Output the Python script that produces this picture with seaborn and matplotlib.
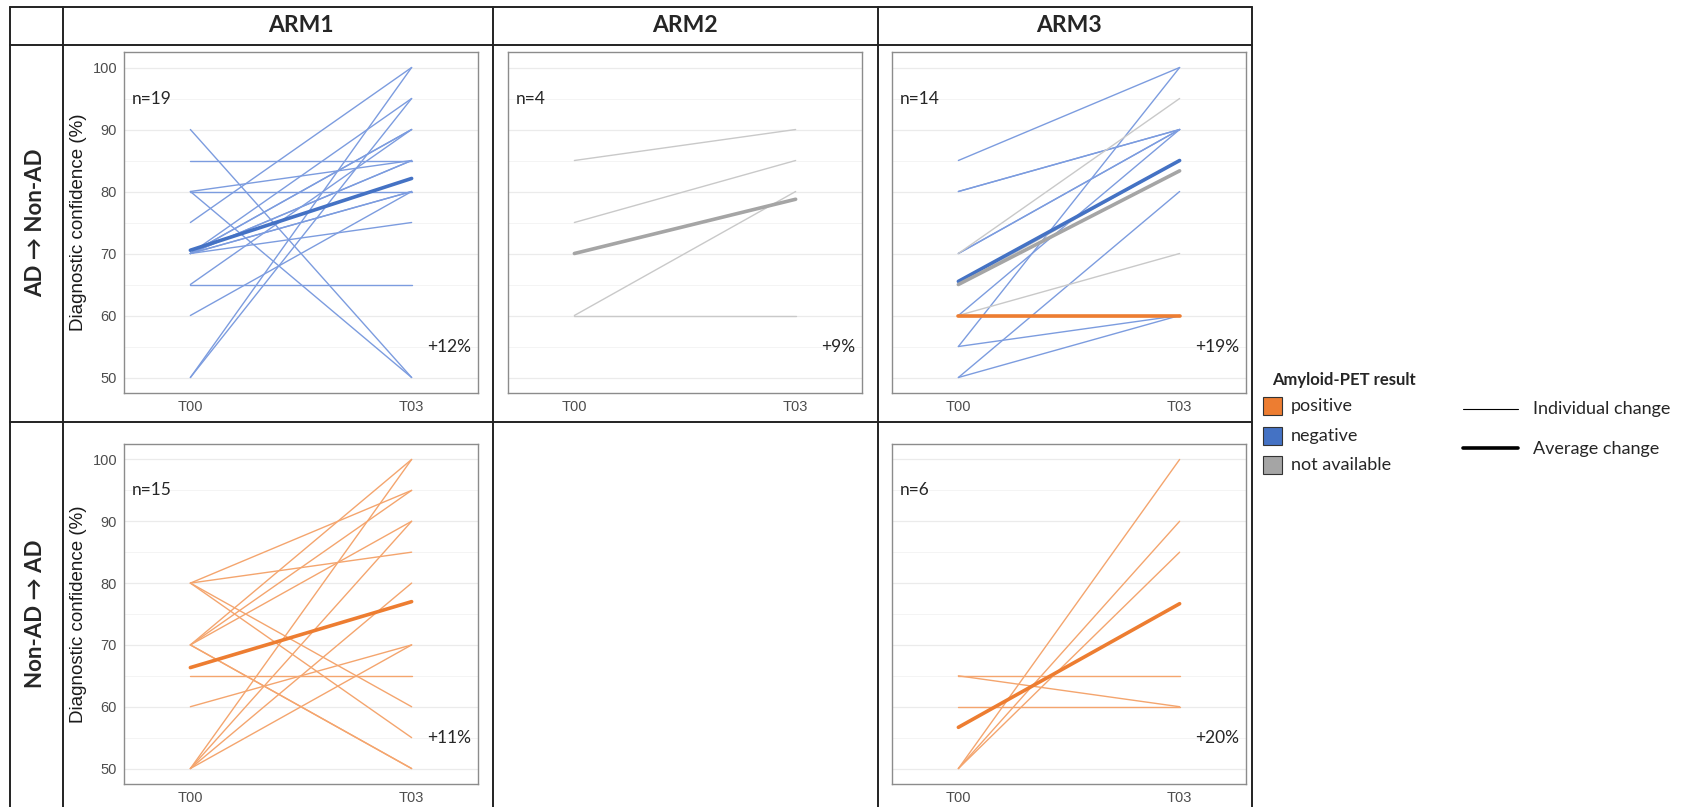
import pandas as pd
import matplotlib
matplotlib.use("Agg")
import matplotlib.pyplot as plt
from matplotlib.lines import Line2D
from matplotlib.patches import Rectangle
import seaborn as sns

W, H = 1684, 807

# ==== values ====
times = ["T00", "T03"]
pet_levels = ["positive", "negative", "not available"]
arms = ["ARM1", "ARM2", "ARM3"]
rows = ["AD \u2192 Non-AD", "Non-AD \u2192 AD"]

# ARM1, AD -> Non-AD
arm1_ad_t00 = [90, 85, 80, 80, 80, 75, 70, 70, 70, 70, 70, 70, 70, 70, 65, 65, 60, 50, 50]
arm1_ad_t03 = [50, 85, 80, 85, 50, 100, 95, 90, 90, 85, 85, 80, 80, 75, 65, 90, 80, 100, 95]
arm1_ad_pet = ["negative"] * 19

# ARM2, AD -> Non-AD
arm2_ad_t00 = [85, 75, 60, 60]
arm2_ad_t03 = [90, 85, 80, 60]
arm2_ad_pet = ["not available"] * 4

# ARM3, AD -> Non-AD
arm3_ad_t00 = [60, 70, 60, 65, 85, 80, 80, 70, 70, 60, 55, 55, 50, 50]
arm3_ad_t03 = [60, 95, 70, 85, 100, 90, 90, 90, 90, 90, 100, 60, 60, 80]
arm3_ad_pet = ["positive"] + ["not available"] * 3 + ["negative"] * 10

# ARM1, Non-AD -> AD
arm1_nad_t00 = [80, 80, 80, 80, 70, 70, 70, 70, 70, 65, 60, 50, 50, 50, 50]
arm1_nad_t03 = [95, 85, 60, 55, 100, 95, 90, 50, 50, 65, 70, 100, 90, 80, 70]
arm1_nad_pet = ["positive"] * 15

# ARM3, Non-AD -> AD
arm3_nad_t00 = [50, 50, 50, 65, 65, 60]
arm3_nad_t03 = [100, 90, 85, 65, 60, 60]
arm3_nad_pet = ["positive"] * 6

n_labels = {"ARM1_0": "n=19", "ARM2_0": "n=4", "ARM3_0": "n=14", "ARM1_1": "n=15", "ARM3_1": "n=6"}
pct_labels = {"ARM1_0": "+12%", "ARM2_0": "+9%", "ARM3_0": "+19%", "ARM1_1": "+11%", "ARM3_1": "+20%"}

pal = {"positive": "#ED7D31", "negative": "#4472C4", "not available": "#A5A5A5"}
thin_pal = {"positive": "#F4A56E", "negative": "#7C9CDF", "not available": "#C9C9C9"}

panels = {
    "ARM1_0": (arm1_ad_t00, arm1_ad_t03, arm1_ad_pet),
    "ARM2_0": (arm2_ad_t00, arm2_ad_t03, arm2_ad_pet),
    "ARM3_0": (arm3_ad_t00, arm3_ad_t03, arm3_ad_pet),
    "ARM1_1": (arm1_nad_t00, arm1_nad_t03, arm1_nad_pet),
    "ARM3_1": (arm3_nad_t00, arm3_nad_t03, arm3_nad_pet),
}

# axes boxes in pixels
col_x = {"ARM1": (124, 478), "ARM2": (508, 862), "ARM3": (892, 1246)}
row_y = [(52, 393), (444, 784)]

CAL = ["Lato", "DejaVu Sans"]
ARI = ["Liberation Sans", "DejaVu Sans"]


def make_df(t00, t03, pet):
    n = len(t00)
    return pd.DataFrame({
        "id": list(range(n)) * 2,
        "t": [0] * n + [1] * n,
        "value": list(t00) + list(t03),
        "pet": list(pet) * 2,
    })


sns.set_style("white")
fig = plt.figure(figsize=(W / 100, H / 100), dpi=100)

for key, (t00, t03, pet) in panels.items():
    arm, r = key.split("_")
    r = int(r)
    x0, x1 = col_x[arm]
    y0, y1 = row_y[r]
    ax = fig.add_axes([x0 / W, 1 - y1 / H, (x1 - x0) / W, (y1 - y0) / H])
    df = make_df(t00, t03, pet)
    order = [p for p in pet_levels if p in df["pet"].unique()]

    # individual change
    sns.lineplot(data=df, x="t", y="value", hue="pet", hue_order=order, palette=thin_pal,
                 units="id", estimator=None, lw=1.0, legend=False, ax=ax)
    # average change
    sns.lineplot(data=df, x="t", y="value", hue="pet", hue_order=order, palette=pal,
                 estimator="mean", errorbar=None, lw=2.6, legend=False, ax=ax)

    ax.set_xlim(-0.3, 1.3)
    ax.set_ylim(47.5, 102.5)
    ax.set_xticks([0, 1])
    ax.set_xticklabels(times, family=ARI)
    ax.set_yticks(range(50, 101, 10))
    ax.set_yticks(range(55, 100, 10), minor=True)
    ax.grid(axis="y", which="major", color="#ebebeb", lw=0.9)
    ax.grid(axis="y", which="minor", color="#f3f3f3", lw=0.6)
    ax.set_axisbelow(True)
    for s in ax.spines.values():
        s.set_visible(True)
        s.set_color("#8c8c8c")
        s.set_linewidth(1.0)
    ax.tick_params(axis="both", which="major", length=3, width=0.8, color="#555555",
                   labelsize=10.5, labelcolor="#4d4d4d", pad=2)
    ax.tick_params(axis="y", which="minor", length=0)
    ax.set_xlabel("")
    if arm == "ARM1":
        ax.set_yticklabels([str(v) for v in range(50, 101, 10)], family=ARI)
        ax.set_ylabel("Diagnostic confidence (%)", fontsize=13.5, family=ARI,
                      color="#1a1a1a", labelpad=4)
    else:
        ax.set_yticklabels([])
        ax.set_ylabel("")

    ax.text(-0.265, 95, n_labels[key], ha="left", va="center", fontsize=12.5, family=CAL)
    ax.text(1.27, 55, pct_labels[key], ha="right", va="center", fontsize=12.5, family=CAL)


def fline(xa, ya, xb, yb, lw=1.4, color="#222222"):
    fig.add_artist(Line2D([xa / W, xb / W], [1 - ya / H, 1 - yb / H],
                          transform=fig.transFigure, color=color, lw=lw))


# table grid
for x in [10, 63, 493, 878, 1252]:
    fline(x, 7, x, 808)
for y in [7, 45, 422]:
    fline(10, y, 1252, y)

for arm in arms:
    x0, x1 = col_x[arm]
    fig.text((x0 + x1) / 2 / W, 1 - 26 / H, arm, ha="center", va="center",
             fontsize=16.5, weight="bold", family=CAL)

for r, lab in enumerate(rows):
    y0, y1 = row_y[r]
    fig.text(36 / W, 1 - (y0 + y1) / 2 / H, lab, ha="center", va="center", rotation=90,
             fontsize=16, weight="bold", family=CAL)

# legend
fig.text(1272 / W, 1 - 380 / H, "Amyloid-PET result", ha="left", va="center",
         fontsize=12, weight="bold", family=CAL)
for i, lvl in enumerate(pet_levels):
    top = 397 + i * 29.5
    fig.add_artist(Rectangle((1263 / W, 1 - (top + 18) / H), 19 / W, 18 / H,
                             transform=fig.transFigure, facecolor=pal[lvl],
                             edgecolor="#333333", lw=0.8))
    fig.text(1291 / W, 1 - (top + 9) / H, lvl, ha="left", va="center",
             fontsize=13, family=CAL)

fline(1463, 409, 1518, 409, lw=0.8, color="black")
fline(1463, 448, 1518, 448, lw=2.6, color="black")
fig.text(1533 / W, 1 - 409 / H, "Individual change", ha="left", va="center", fontsize=13, family=CAL)
fig.text(1533 / W, 1 - 449 / H, "Average change", ha="left", va="center", fontsize=13, family=CAL)

fig.savefig("out.png", dpi=100, facecolor="white")
